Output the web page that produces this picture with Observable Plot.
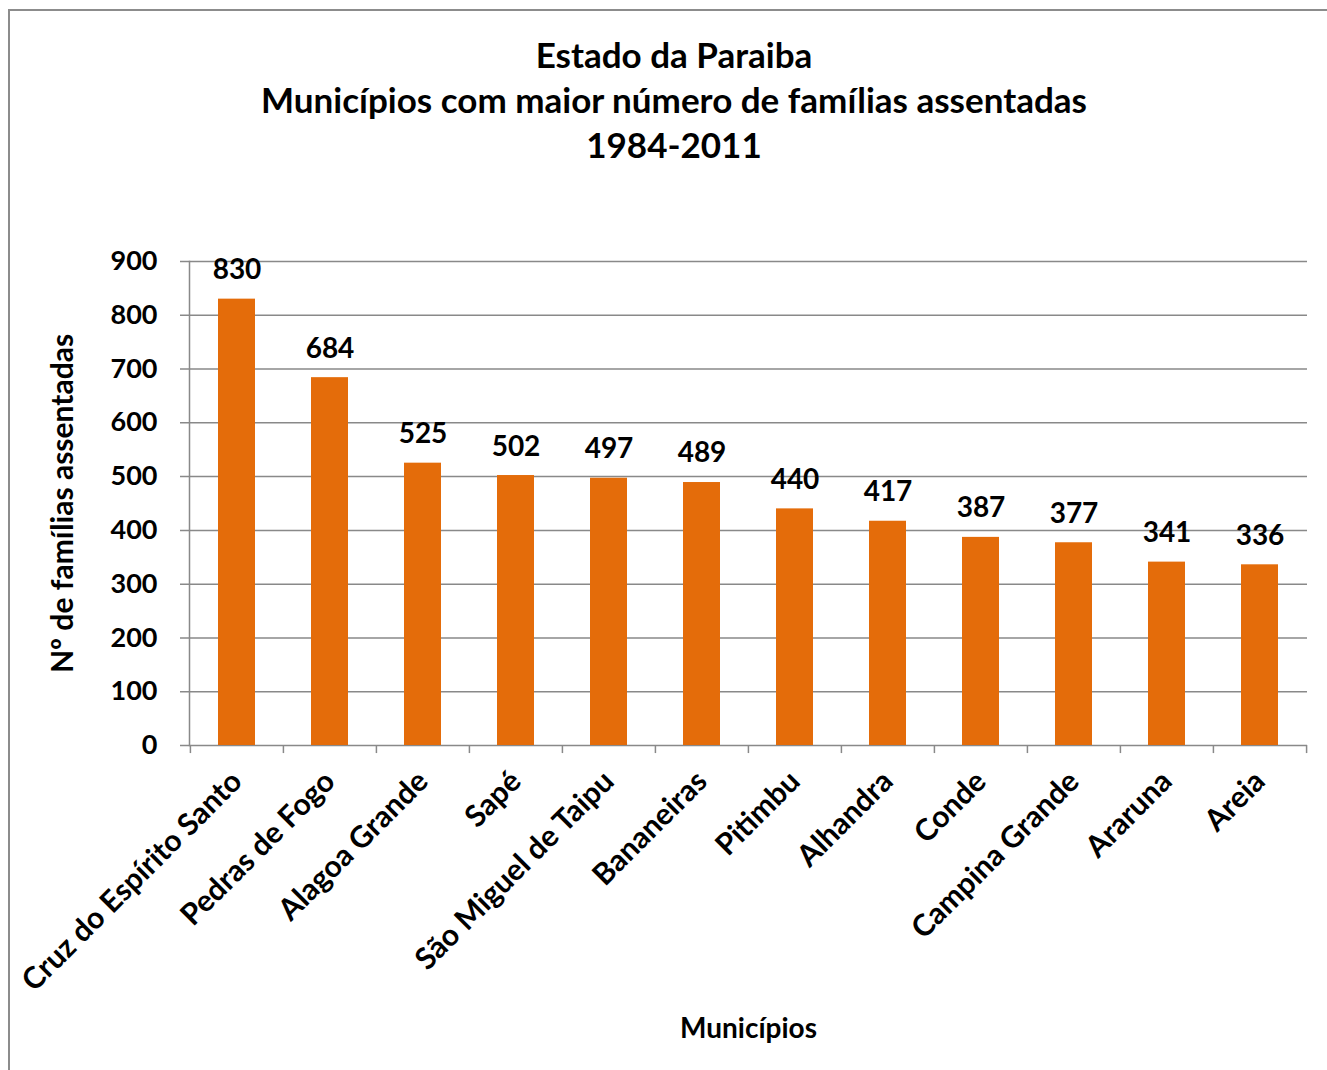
<!DOCTYPE html>
<html>
<head>
<meta charset="utf-8">
<script src="https://cdn.jsdelivr.net/npm/d3@7"></script>
<script src="https://cdn.jsdelivr.net/npm/@observablehq/plot@0.6"></script>
<style>
  html, body { margin: 0; padding: 0; background: #fff; }
  #wrap { position: relative; width: 1327px; height: 1070px; overflow: hidden; font-family: Lato, "Open Sans", sans-serif; }
  #frame { position: absolute; left: 8px; top: 9px; width: 1400px; height: 1100px; border-top: 2px solid #8c8c8c; border-left: 2px solid #8c8c8c; box-sizing: border-box; }
  #title { position: absolute; left: 0; width: 1348px; top: 32px; text-align: center; font-weight: 700; font-size: 35px; line-height: 45px; color: #000; }
  #chart { position: absolute; left: 0; top: 230px; }
  #chart svg { overflow: visible; }
</style>
</head>
<body>
<div id="wrap">
  <div id="frame"></div>
  <div id="title">Estado da Paraiba<br>Municípios com maior número de famílias assentadas<br>1984-2011</div>
  <div id="chart"></div>
</div>
<script>
const categories = ["Cruz do Espírito Santo", "Pedras de Fogo", "Alagoa Grande", "Sapé", "São Miguel de Taipu", "Bananeiras", "Pitimbu", "Alhandra", "Conde", "Campina Grande", "Araruna", "Areia"];
const values = [830, 684, 525, 502, 497, 489, 440, 417, 387, 377, 341, 336];
const yTicks = [0, 100, 200, 300, 400, 500, 600, 700, 800, 900];
const xTitle = "Municípios";
const yTitle = "Nº de famílias assentadas";

const data = categories.map((c, i) => ({category: c, value: values[i]}));

const W = 1327, H = 840;
const mL = 189, mR = 20, mT = 31, mB = 325;
const step = (W - mL - mR) / categories.length;
const grey = "#898989";
const orange = "#E46C0A";

const chart = Plot.plot({
  width: W,
  height: H,
  marginLeft: mL,
  marginRight: mR,
  marginTop: mT,
  marginBottom: mB,
  style: {fontFamily: "Lato, 'Open Sans', sans-serif", fontWeight: 700, color: "#000", background: "transparent", overflow: "visible"},
  x: {domain: categories, paddingInner: 0.6, paddingOuter: 0.3, label: null},
  y: {domain: [0, 900], label: null},
  marks: [
    Plot.ruleY(yTicks, {stroke: grey, strokeWidth: 1.5, insetLeft: -9}),
    Plot.barY(data, {x: "category", y: "value", fill: orange}),
    Plot.frame({anchor: "left", stroke: grey, strokeWidth: 1.5}),
    Plot.ruleX(categories, {x: d => d, dx: -step / 2, y1: 0, y2: -15, stroke: grey, strokeWidth: 1.5}),
    Plot.ruleX(categories.slice(-1), {x: d => d, dx: step / 2, y1: 0, y2: -15, stroke: grey, strokeWidth: 1.5}),
    Plot.text(data, {x: "category", y: "value", text: d => String(d.value), dy: -29, fontSize: 28, fontWeight: 700, fill: "#000"}),
    Plot.axisY({ticks: yTicks, tickSize: 0, tickPadding: 32, fontSize: 27, fontWeight: 700, tickFormat: d => String(d), label: yTitle, labelAnchor: "center", labelOffset: 138, labelArrow: "none"}),
    Plot.axisX({tickSize: 0, tickPadding: 31, tickRotate: -45, fontSize: 30, fontWeight: 700, label: xTitle, labelAnchor: "center", labelOffset: 292, labelArrow: "none"})
  ]
});
document.getElementById("chart").appendChild(chart);
chart.querySelectorAll("[aria-label='y-axis label'] text").forEach(t => { t.setAttribute("font-size", 30); t.setAttribute("font-weight", 700); });
chart.querySelectorAll("[aria-label='x-axis label'] text").forEach(t => { t.setAttribute("font-size", 28); t.setAttribute("font-weight", 700); });
</script>
</body>
</html>
